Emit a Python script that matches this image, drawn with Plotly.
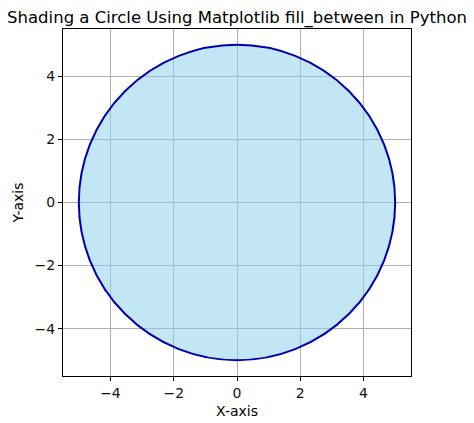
import plotly.graph_objects as go

# Circle data
center_x = [0]
center_y = [0]
radius = [5]

# Axis ticks
tick_vals = [-4, -2, 0, 2, 4]
axis_range = [-5.5, 5.5]

fig = go.Figure()

# Shaded circle
for cx, cy, r in zip(center_x, center_y, radius):
    fig.add_shape(
        type="circle",
        xref="x", yref="y",
        x0=cx - r, y0=cy - r, x1=cx + r, y1=cy + r,
        fillcolor="rgba(135,206,235,0.5)",
        line=dict(color="#0000b0", width=2),
        layer="above",
    )

axis_style = dict(
    range=axis_range,
    tickvals=tick_vals,
    automargin=False,
    showgrid=True,
    gridcolor="#b0b0b0",
    gridwidth=1,
    zeroline=False,
    showline=True,
    linecolor="black",
    linewidth=1,
    mirror=True,
    ticks="outside",
    ticklen=4,
    tickcolor="black",
    tickfont=dict(size=14, color="#111"),
)

# page body has an 8px margin, so the figure is shrunk by that amount
fig.update_layout(
    width=466,
    height=415,
    margin=dict(l=55, r=63, t=21, b=47),
    paper_bgcolor="white",
    plot_bgcolor="white",
    font=dict(family="DejaVu Sans", color="black"),
    title=dict(
        text="Shading a Circle Using Matplotlib fill_between in Python",
        x=0.5, xanchor="center", xref="paper",
        y=0.992, yanchor="top",
        font=dict(size=16.5),
    ),
    xaxis=dict(axis_style, title=dict(text="X-axis", font=dict(size=14), standoff=6)),
    yaxis=dict(axis_style, title=dict(text="Y-axis", font=dict(size=14), standoff=7)),
    showlegend=False,
)

fig.write_html("out.html")
